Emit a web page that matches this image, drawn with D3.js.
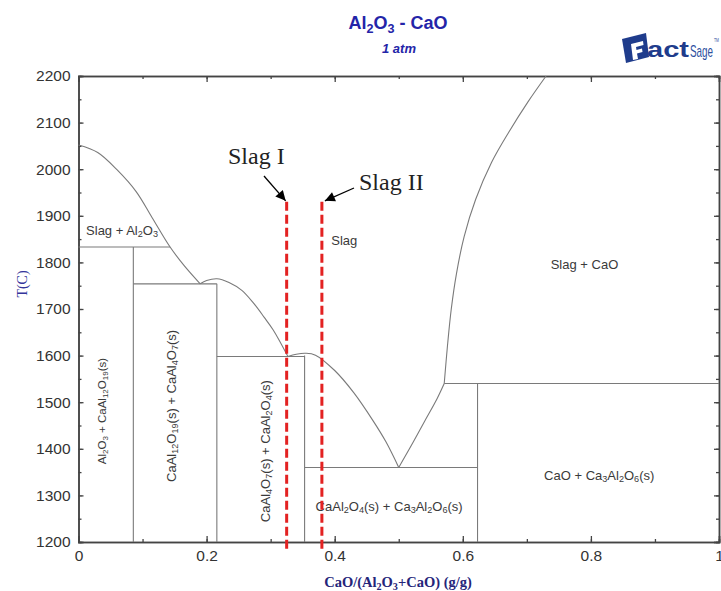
<!DOCTYPE html>
<html>
<head>
<meta charset="utf-8">
<script src="https://cdn.jsdelivr.net/npm/d3@7"></script>
<style>
  body { margin: 0; background: #fff; }
  .tick text { font-family: "Liberation Sans", Arial, sans-serif; fill: #333; }
</style>
</head>
<body>
<div id="chart"></div>
<script>
// Phase boundaries, [CaO mass fraction, T in C]
var liqAl2O3 = [[0, 2052], [0.03, 2036], [0.06, 1999], [0.09, 1952], [0.115, 1896], [0.143, 1833], [0.165, 1793], [0.19, 1754]];
var liqCA6 = [[0.19, 1754], [0.2, 1761], [0.216, 1765], [0.235, 1757], [0.255, 1740], [0.273, 1713], [0.29, 1682], [0.304, 1655], [0.327, 1598]];
var liqCA2 = [[0.327, 1598], [0.34, 1603], [0.355, 1605], [0.37, 1601], [0.4, 1568], [0.43, 1520], [0.46, 1460], [0.48, 1415], [0.5, 1360]];
var liqC3A = [[0.5, 1360], [0.52, 1408], [0.54, 1458], [0.56, 1508], [0.571, 1540]];
var liqCaO = [[0.571, 1540], [0.576, 1620], [0.582, 1700], [0.59, 1775], [0.602, 1855], [0.62, 1935], [0.645, 2015], [0.672, 2080], [0.702, 2145], [0.73, 2200]];

// invariant lines [x1, x2, T]
var horizLines = [[0, 0.143, 1833], [0.0856, 0.216, 1754], [0.216, 0.353, 1598], [0.353, 0.623, 1360], [0.571, 1, 1540]];
// compound lines [x, T top]
var vertLines = [[0.0856, 1833], [0.216, 1754], [0.353, 1600], [0.623, 1540]];

// region labels, {} = subscript
var regionLabels = [
  { text: "Slag + Al{2}O{3}", x: 0.068, t: 1865, rot: false },
  { text: "Slag", x: 0.415, t: 1843, rot: false },
  { text: "Slag + CaO", x: 0.79, t: 1793, rot: false },
  { text: "CaO + Ca{3}Al{2}O{6}(s)", x: 0.813, t: 1339, rot: false },
  { text: "CaAl{2}O{4}(s) + Ca{3}Al{2}O{6}(s)", x: 0.485, t: 1273, rot: false },
  { text: "Al{2}O{3} + CaAl{12}O{19}(s)", x: 0.039, t: 1481, rot: true },
  { text: "CaAl{12}O{19}(s) + CaAl{4}O{7}(s)", x: 0.148, t: 1492, rot: true },
  { text: "CaAl{4}O{7}(s) + CaAl{2}O{4}(s)", x: 0.294, t: 1395, rot: true }
];

// studied slag compositions
var slagNames = ["Slag I", "Slag II"];
var slagX = [0.325, 0.38];

var xTickLabels = [0, 0.2, 0.4, 0.6, 0.8, 1];
var yTickLabels = [1200, 1300, 1400, 1500, 1600, 1700, 1800, 1900, 2000, 2100, 2200];

var width = 721, height = 591;
var svg = d3.select("#chart").append("svg")
    .attr("width", width)
    .attr("height", height);

var x = d3.scaleLinear().domain([0, 1]).range([78.5, 719]);
var y = d3.scaleLinear().domain([1200, 2200]).range([542, 76]);

var sans = "'Liberation Sans', Arial, sans-serif";
var serif = "'Liberation Serif', 'Times New Roman', serif";

// write text with {sub} markup
function richText(sel, str, size) {
  sel.attr("font-size", size);
  var parts = str.split(/(\{[^}]*\})/);
  var shift = 0;
  parts.forEach(function(p) {
    if (!p) return;
    if (p[0] === "{") {
      sel.append("tspan").attr("font-size", size * 0.7).attr("dy", size * 0.22).text(p.slice(1, -1));
      shift = size * 0.22;
    } else {
      sel.append("tspan").attr("font-size", size).attr("dy", -shift).text(p);
      shift = 0;
    }
  });
}

// Axes ##############################
var minorX = d3.range(0, 1.001, 0.1);
var minorY = d3.range(1200, 2201, 50);

function axisGroup(axis, tx, ty) {
  var g = svg.append("g").attr("transform", "translate(" + tx + "," + ty + ")").call(axis);
  g.selectAll("path.domain").attr("stroke", "#444").attr("stroke-width", 1.5);
  g.selectAll(".tick line").attr("stroke", "#444").attr("stroke-width", 1.3);
  return g;
}

// minor ticks
axisGroup(d3.axisBottom(x).tickValues(minorX).tickSize(-3).tickFormat(""), 0, y(1200));
axisGroup(d3.axisTop(x).tickValues(minorX).tickSize(-3).tickFormat(""), 0, y(2200));
axisGroup(d3.axisLeft(y).tickValues(minorY).tickSize(-3).tickFormat(""), x(0), 0);
axisGroup(d3.axisRight(y).tickValues(minorY).tickSize(-3).tickFormat(""), x(1), 0);

// major ticks
var xb = axisGroup(d3.axisBottom(x).tickValues(xTickLabels).tickSize(-6).tickPadding(8)
    .tickFormat(function(d) { return d === 0 || d === 1 ? d : d3.format(".1f")(d); }), 0, y(1200));
xb.selectAll("text").attr("font-size", 15.5);
axisGroup(d3.axisTop(x).tickValues(xTickLabels).tickSize(-6).tickFormat(""), 0, y(2200));
var yl = axisGroup(d3.axisLeft(y).tickValues(yTickLabels).tickSize(-5).tickPadding(8)
    .tickFormat(d3.format("d")), x(0), 0);
yl.selectAll("text").attr("font-size", 15.5);
yl.selectAll(".tick line").attr("x1", 2);
axisGroup(d3.axisRight(y).tickValues(yTickLabels).tickSize(-5).tickFormat(""), x(1), 0);

// Phase diagram lines ##############################
var line = d3.line()
    .x(function(d) { return x(d[0]); })
    .y(function(d) { return y(d[1]); })
    .curve(d3.curveCatmullRom.alpha(0.5));

var phase = svg.append("g").attr("fill", "none").attr("stroke", "#7a7a7a").attr("stroke-width", 1.1);
[liqAl2O3, liqCA6, liqCA2, liqC3A, liqCaO].forEach(function(c) {
  phase.append("path").attr("d", line(c));
});
horizLines.forEach(function(h) {
  phase.append("line").attr("x1", x(h[0])).attr("x2", x(h[1])).attr("y1", y(h[2])).attr("y2", y(h[2]));
});
vertLines.forEach(function(v) {
  phase.append("line").attr("x1", x(v[0])).attr("x2", x(v[0])).attr("y1", y(v[1])).attr("y2", y(1200));
});

// region labels (the narrow Al2O3 field uses a smaller font)
regionLabels.forEach(function(r, i) {
  var t = svg.append("text")
      .attr("font-family", sans)
      .attr("fill", "#3a3a3a")
      .attr("text-anchor", "middle")
      .attr("dominant-baseline", "middle");
  if (r.rot) {
    t.attr("transform", "translate(" + x(r.x) + "," + y(r.t) + ")rotate(-90)");
  } else {
    t.attr("x", x(r.x)).attr("y", y(r.t));
  }
  richText(t, r.text, i === 5 ? 11.5 : 13);
});

// Slag composition lines ##############################
svg.append("defs").append("marker")
    .attr("id", "arrow")
    .attr("viewBox", "0 0 10 10")
    .attr("refX", 10).attr("refY", 5)
    .attr("markerWidth", 11).attr("markerHeight", 10)
    .attr("markerUnits", "userSpaceOnUse")
    .attr("orient", "auto")
    .append("path").attr("d", "M0,0 L10,5 L0,10 z").attr("fill", "#000");

slagX.forEach(function(sx) {
  svg.append("line")
      .attr("x1", x(sx)).attr("x2", x(sx))
      .attr("y1", y(1930)).attr("y2", y(1183))
      .attr("stroke", "#e32222")
      .attr("stroke-width", 3)
      .attr("stroke-dasharray", "9,4");
});

// Slag I label and arrow
svg.append("text").attr("x", 228).attr("y", 164)
    .attr("font-family", serif).attr("font-size", 24).attr("fill", "#222")
    .text(slagNames[0]);
svg.append("line").attr("x1", 264).attr("y1", 176).attr("x2", x(slagX[0]) - 1).attr("y2", y(1930) - 1)
    .attr("stroke", "#000").attr("stroke-width", 1.3).attr("marker-end", "url(#arrow)");
// Slag II label and arrow
svg.append("text").attr("x", 359).attr("y", 190)
    .attr("font-family", serif).attr("font-size", 24).attr("fill", "#222")
    .text(slagNames[1]);
svg.append("line").attr("x1", 354).attr("y1", 188).attr("x2", x(slagX[1]) + 3).attr("y2", y(1930) - 1)
    .attr("stroke", "#000").attr("stroke-width", 1.3).attr("marker-end", "url(#arrow)");

// Titles ##############################
var title = svg.append("text").attr("x", 398).attr("y", 29)
    .attr("text-anchor", "middle").attr("font-family", sans)
    .attr("font-weight", "bold").attr("fill", "#2424a8");
richText(title, "Al{2}O{3} - CaO", 18);

svg.append("text").attr("x", 399).attr("y", 53)
    .attr("text-anchor", "middle").attr("font-family", sans)
    .attr("font-weight", "bold").attr("font-style", "italic")
    .attr("font-size", 13).attr("fill", "#2424a8")
    .text("1 atm");

var xlab = svg.append("text").attr("x", 398).attr("y", 587)
    .attr("text-anchor", "middle").attr("font-family", serif)
    .attr("font-weight", "bold").attr("fill", "#25257a");
richText(xlab, "CaO/(Al{2}O{3}+CaO) (g/g)", 14.5);

svg.append("text")
    .attr("transform", "translate(27,284)rotate(-90)")
    .attr("text-anchor", "middle").attr("font-family", serif)
    .attr("font-size", 14).attr("fill", "#34349a")
    .text("T(C)");

// FactSage logo ##############################
var logo = svg.append("g").attr("transform", "translate(620,33)");
logo.append("path")
    .attr("d", "M2,6 L26,0 L29,24 L6,30 Z")
    .attr("fill", "#1f3c8c");
logo.append("path")
    .attr("d", "M11,11 L23,8 L23.5,12 L16,14 L16.5,17 L22,15.5 L22.5,19 L17,20.5 L18,26 L13,27 Z")
    .attr("fill", "#fff");
logo.append("text").attr("x", 27).attr("y", 24)
    .attr("font-family", sans).attr("font-weight", "bold").attr("font-size", 22)
    .attr("textLength", 42).attr("lengthAdjust", "spacingAndGlyphs")
    .attr("fill", "#1f3c8c").text("act");
logo.append("text").attr("x", 70).attr("y", 24)
    .attr("font-family", sans).attr("font-size", 17)
    .attr("textLength", 23).attr("lengthAdjust", "spacingAndGlyphs")
    .attr("fill", "#2d4f9e").text("Sage");
logo.append("text").attr("x", 94).attr("y", 9)
    .attr("font-family", sans).attr("font-size", 4.5)
    .attr("textLength", 5).attr("lengthAdjust", "spacingAndGlyphs")
    .attr("fill", "#2d4f9e").text("TM");
</script>
</body>
</html>
